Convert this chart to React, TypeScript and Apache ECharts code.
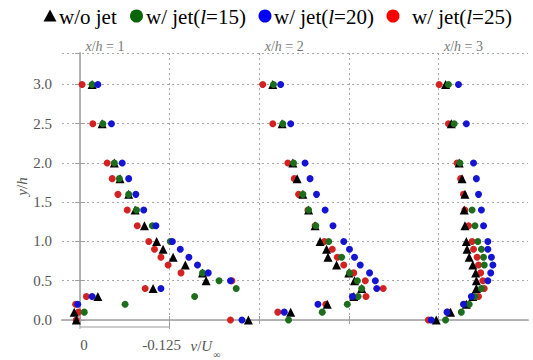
import React, { useEffect, useRef } from 'react';
import * as echarts from 'echarts';

// Wall-normal stations (y/h) at which v/U∞ was measured
const Y_LEVELS = [0, 0.1, 0.2, 0.3, 0.4, 0.5, 0.6, 0.7, 0.8, 0.9, 1.0, 1.2, 1.4, 1.6, 1.8, 2.0, 2.5, 3.0];
// Streamwise stations x/h and the shift used to stack the profiles along the axis
const STATIONS = [1, 2, 3];
const STATION_SHIFT = [0, 0.25, 0.5];
// vertical reference lines (in shifted axis units) and the scale bar values
const GRID_X = [0, 0.125, 0.25, 0.375, 0.5];
const SCALE_TICKS = [0, -0.125];

// v/U∞ values, one array per station (x/h = 1, 2, 3), following Y_LEVELS
const NO_JET: (number | null)[][] = [
  [0.005, 0.008, null, -0.025, -0.102, -0.176, -0.171, -0.147, -0.130, -0.116, -0.107, -0.090, -0.077, -0.068, -0.056, -0.048, -0.031, -0.017],
  [0.015, -0.044, -0.095, -0.132, -0.143, -0.133, -0.125, -0.108, -0.096, -0.094, -0.085, -0.078, -0.069, -0.061, -0.053, -0.047, -0.032, -0.019],
  [0.003, -0.017, -0.039, -0.048, -0.053, -0.053, -0.052, -0.048, -0.043, -0.040, -0.039, -0.037, -0.036, -0.037, -0.033, -0.029, -0.018, -0.010],
];
const JET_L15: (number | null)[][] = [
  [null, -0.006, -0.063, -0.160, -0.218, -0.194, -0.171, null, null, null, -0.126, -0.101, -0.079, -0.068, -0.055, -0.048, -0.032, -0.017],
  [-0.041, -0.088, -0.123, -0.138, -0.143, -0.137, -0.126, null, -0.115, null, -0.097, -0.079, -0.069, -0.061, null, -0.048, -0.033, -0.020],
  [-0.010, -0.032, -0.043, -0.051, -0.060, null, null, -0.064, -0.063, -0.060, -0.055, -0.051, -0.047, null, null, -0.030, -0.022, -0.014],
];
const JET_L20: (number | null)[][] = [
  [null, null, 0.003, -0.017, -0.113, -0.210, -0.179, -0.164, -0.152, -0.140, -0.129, -0.106, -0.089, -0.078, -0.068, -0.059, -0.044, -0.025],
  [0.024, -0.035, -0.082, -0.130, -0.164, -0.162, -0.154, -0.141, -0.133, -0.126, -0.118, -0.103, -0.092, -0.080, -0.071, -0.064, -0.044, -0.030],
  [0.010, -0.012, -0.035, -0.046, null, -0.069, -0.073, -0.076, -0.074, -0.069, -0.069, -0.063, -0.060, -0.056, -0.053, -0.049, -0.039, -0.028],
];
const JET_L25: (number | null)[][] = [
  [0.005, 0.002, 0.006, -0.009, -0.091, -0.212, -0.141, -0.123, -0.113, -0.104, -0.096, -0.080, -0.066, -0.053, -0.045, -0.038, -0.018, -0.003],
  [0.040, -0.026, -0.093, -0.149, -0.173, -0.148, -0.132, -0.118, -0.109, -0.102, -0.091, -0.078, -0.068, -0.055, -0.049, -0.040, -0.019, -0.005],
  [0.014, -0.013, -0.036, -0.056, -0.064, -0.062, -0.059, -0.056, -0.054, -0.049, -0.047, -0.042, -0.037, -0.035, -0.031, -0.026, -0.014, -0.001],
];

// legend entries: text segments, [text, italic]
const SERIES_NAMES = ['w/o jet', 'w/ jet(l=15)', 'w/ jet(l=20)', 'w/ jet(l=25)'];
const LEGEND_SEGS: [string, boolean][][] = [
  [['w/o jet', false]],
  [['w/ jet(', false], ['l', true], ['=15)', false]],
  [['w/ jet(', false], ['l', true], ['=20)', false]],
  [['w/ jet(', false], ['l', true], ['=25)', false]],
];

const SERIF = 'Liberation Serif';

const toPoints = (profiles: (number | null)[][]) =>
  profiles.flatMap((vals, s) =>
    vals.flatMap((v, i) => (v === null ? [] : [[STATION_SHIFT[s] - v, Y_LEVELS[i]]]))
  );

const fontOf = (size: number, italic: boolean) => `${italic ? 'italic ' : ''}${size}px ${SERIF}`;

let measureCtx: CanvasRenderingContext2D | null = null;
const measure = (t: string, size: number, italic: boolean) => {
  if (!measureCtx) measureCtx = document.createElement('canvas').getContext('2d');
  if (!measureCtx) return t.length * size * 0.5;
  measureCtx.font = fontOf(size, italic);
  return measureCtx.measureText(t).width;
};

// a row of plain texts, each in its own font, laid side by side
const textRow = (
  x: number, y: number, segs: [string, boolean][], size: number, color: string,
  align: 'left' | 'center'
) => {
  const widths = segs.map(([t, it]) => measure(t, size, it));
  const total = widths.reduce((a, b) => a + b, 0);
  let cx = align === 'center' ? x - total / 2 : x;
  return segs.map(([t, it], k) => {
    const trimmed = t.replace(/^\s+/, '');
    const lead = measure(t.slice(0, t.length - trimmed.length), size, it);
    const el = {
      type: 'text', silent: true, x: cx + lead, y,
      style: { text: trimmed, font: fontOf(size, it), fill: color, align: 'left', verticalAlign: 'middle' },
    };
    cx += widths[k];
    return el;
  });
};

const LEGEND_LAYOUT = [
  { iconX: 50, textX: 59, icon: 'triangle', color: '#000000' },
  { iconX: 136.5, textX: 146, icon: 'circle', color: '#0a640a' },
  { iconX: 265, textX: 274, icon: 'circle', color: '#0000ff' },
  { iconX: 393, textX: 412, icon: 'circle', color: '#ff0000' },
];

export default function App() {
  const ref = useRef<HTMLDivElement>(null);

  useEffect(() => {
    document.body.style.margin = '0';
    if (!ref.current) return;
    const chart = echarts.init(ref.current, null, { renderer: 'svg' });

    const dotted = { color: '#a8a8a8', width: 1, type: [2, 3] as number[] };

    const option: any = {
      animation: false,
      grid: { left: 62, right: 5, top: 53, bottom: 40, containLabel: false, outerBoundsMode: 'none' },
      xAxis: [
        {
          type: 'value',
          min: -0.025,
          max: 0.625,
          position: 'bottom',
          axisLine: { show: true, lineStyle: { color: '#b4b4b4', width: 2 } },
          axisTick: { show: true, inside: true, length: 4, customValues: GRID_X, lineStyle: { color: '#a0a0a0' } },
          axisLabel: { show: false },
          splitLine: { show: true, lineStyle: dotted },
        },
        {
          type: 'value',
          min: -0.025,
          max: 0.625,
          position: 'top',
          axisLine: { show: true, lineStyle: { color: '#b0b0b0', width: 1 } },
          axisTick: { show: true, inside: true, length: 4, customValues: GRID_X, lineStyle: { color: '#a0a0a0' } },
          axisLabel: { show: false },
          splitLine: { show: false },
        },
      ],
      yAxis: [
        {
          type: 'value',
          min: 0,
          max: 3.4,
          interval: 0.5,
          position: 'left',
          axisLine: { show: true, lineStyle: { color: '#b4b4b4', width: 2 } },
          axisTick: { show: true, inside: true, length: 5, lineStyle: { color: '#a0a0a0' } },
          axisLabel: {
            show: true,
            margin: 10,
            showMaxLabel: false,
            fontFamily: SERIF,
            fontSize: 15,
            color: '#555',
            formatter: (v: number) => v.toFixed(1),
          },
          splitLine: { show: true, lineStyle: dotted },
        },
        {
          type: 'value',
          min: 0,
          max: 3.4,
          interval: 0.5,
          position: 'right',
          axisLine: { show: true, lineStyle: { color: '#b0b0b0', width: 1 } },
          axisTick: { show: true, inside: true, length: 5, lineStyle: { color: '#a0a0a0' } },
          axisLabel: { show: false },
          splitLine: { show: false },
        },
      ],
      series: [
        { name: SERIES_NAMES[3], data: toPoints(JET_L25), symbol: 'circle', symbolSize: 7, color: '#d42222' },
        { name: SERIES_NAMES[0], data: toPoints(NO_JET), symbol: 'triangle', symbolSize: 9, color: '#000000' },
        { name: SERIES_NAMES[1], data: toPoints(JET_L15), symbol: 'circle', symbolSize: 7, color: '#1c6e1c' },
        { name: SERIES_NAMES[2], data: toPoints(JET_L20), symbol: 'circle', symbolSize: 7, color: '#1414d2' },
      ].map((s) => ({
        type: 'scatter',
        name: s.name,
        data: s.data,
        symbol: s.symbol,
        symbolSize: s.symbolSize,
        itemStyle: { color: s.color, opacity: 1 },
        silent: true,
        emphasis: { disabled: true },
        xAxisIndex: 0,
        yAxisIndex: 0,
      })),
    };

    chart.setOption(option);

    const ax = (u: number) => chart.convertToPixel({ xAxisIndex: 0 }, u) as number;
    const ay = (y: number) => chart.convertToPixel({ yAxisIndex: 0 }, y) as number;

    const xa = ax(STATION_SHIFT[0] - SCALE_TICKS[0]);
    const xb = ax(STATION_SHIFT[0] - SCALE_TICKS[1]);
    const yb = ay(0) + 7;
    const lineStyle = { stroke: '#9a9a9a', lineWidth: 1 };
    const legendY = 16;

    // legend (icons + texts)
    const legendEls: any[] = LEGEND_LAYOUT.flatMap((l, k) => {
      const icon =
        l.icon === 'triangle'
          ? {
              type: 'polygon', silent: true,
              shape: { points: [[l.iconX, legendY - 6.5], [l.iconX + 6.5, legendY + 5.5], [l.iconX - 6.5, legendY + 5.5]] },
              style: { fill: l.color },
            }
          : { type: 'circle', silent: true, shape: { cx: l.iconX, cy: legendY, r: 6.5 }, style: { fill: l.color } };
      return [icon, ...textRow(l.textX, legendY + 1, LEGEND_SEGS[k], 21, '#000', 'left')];
    });

    // y-axis title, rotated
    const yTitleSegs: [string, boolean][] = [['y', true], ['/', false], ['h', true]];
    const yTitle = {
      type: 'group',
      x: 22,
      y: (ay(0) + ay(3.4)) / 2,
      rotation: Math.PI / 2,
      children: textRow(0, 0, yTitleSegs, 15, '#555', 'center'),
    };

    const vUnitSegs: [string, boolean][] = [['v', true], ['/', false], ['U', true]];
    const vUnitW = vUnitSegs.reduce((a, [t, it]) => a + measure(t, 15, it), 0);

    const graphic: any[] = [
      ...legendEls,
      yTitle,
      { type: 'line', silent: true, shape: { x1: xa, y1: yb, x2: xb, y2: yb }, style: lineStyle },
      { type: 'line', silent: true, shape: { x1: xa, y1: yb - 4, x2: xa, y2: yb + 2 }, style: lineStyle },
      { type: 'line', silent: true, shape: { x1: xb, y1: yb - 4, x2: xb, y2: yb + 2 }, style: lineStyle },
      {
        type: 'text', silent: true, x: xa + 4, y: yb + 18,
        style: { font: fontOf(15, false), fill: '#555', text: String(SCALE_TICKS[0]), align: 'center', verticalAlign: 'middle' },
      },
      {
        type: 'text', silent: true, x: xb - 8, y: yb + 18,
        style: { font: fontOf(15, false), fill: '#555', text: String(SCALE_TICKS[1]), align: 'center', verticalAlign: 'middle' },
      },
      ...textRow(xb + 21, yb + 19, vUnitSegs, 15, '#555', 'left'),
      {
        type: 'text', silent: true, x: xb + 22 + vUnitW, y: yb + 27,
        style: { text: '\u221e', font: fontOf(10, false), fill: '#555', align: 'left', verticalAlign: 'middle' },
      },
      ...STATIONS.flatMap((st, s) =>
        textRow(
          ax(STATION_SHIFT[s] + 0.035), 46,
          [['x', true], ['/', false], ['h', true], [` = ${st}`, false]],
          14, '#777', 'center'
        )
      ),
    ];

    chart.setOption({ graphic });

    return () => chart.dispose();
  }, []);

  return <div ref={ref} style={{ width: 533, height: 360, position: 'absolute', left: 0, top: 0 }} />;
}
